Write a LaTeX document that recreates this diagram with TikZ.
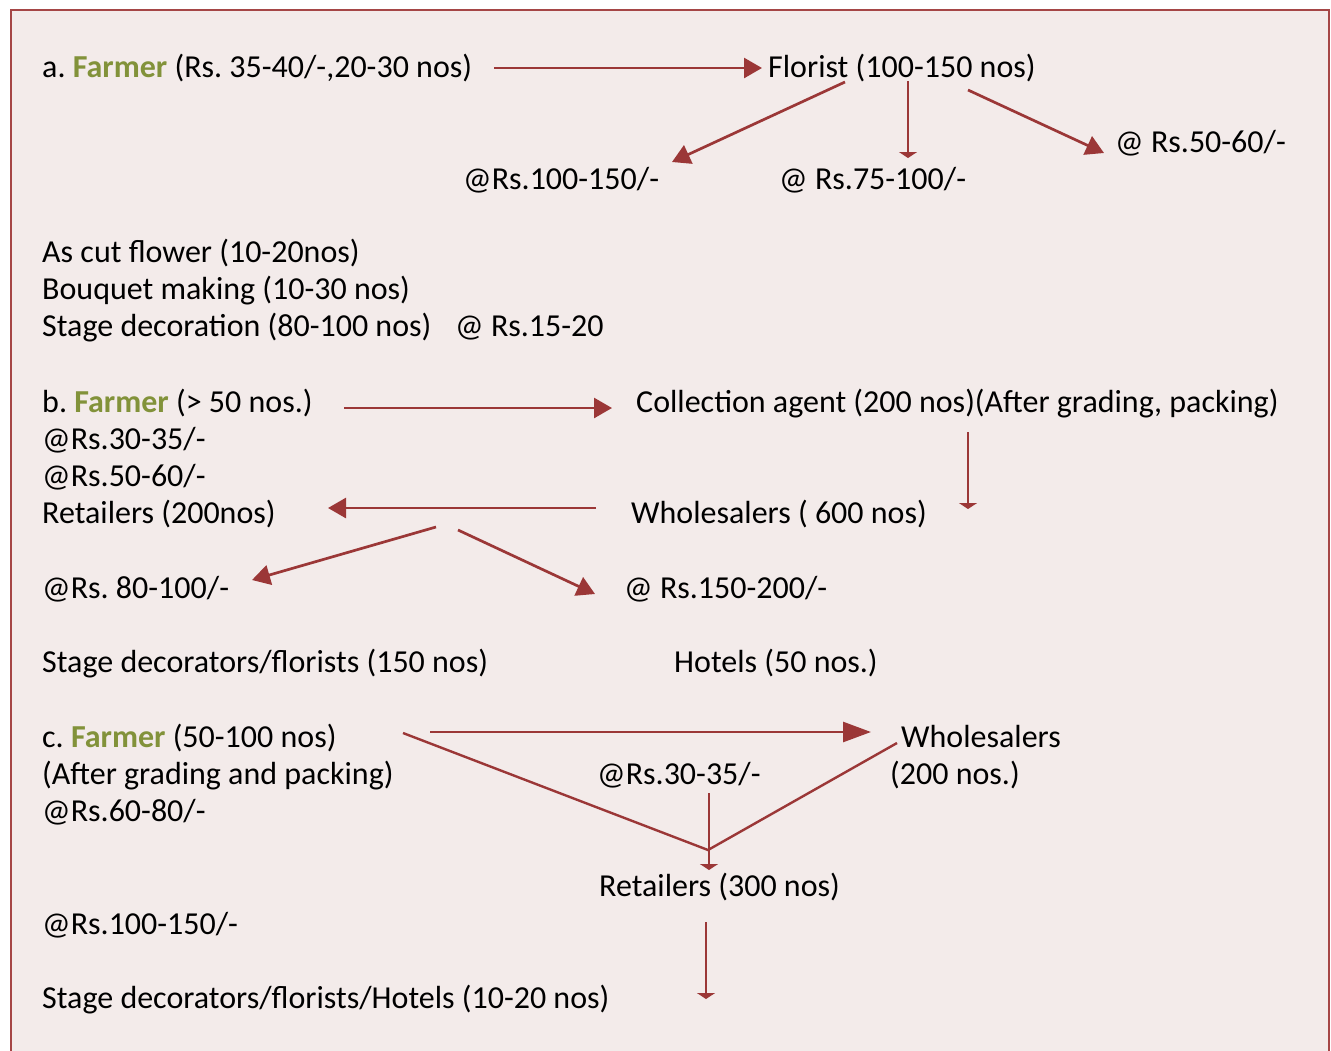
\documentclass[tikz,border=0pt]{standalone}
\usepackage{fontspec}
\setmainfont{Carlito}
\usetikzlibrary{arrows.meta}
\frenchspacing

\definecolor{framered}{RGB}{165,70,70}
\definecolor{paper}{RGB}{243,235,234}
\definecolor{flowred}{RGB}{155,55,55}
\definecolor{farmergreen}{RGB}{130,146,58}
\newcommand{\farmerword}{\textcolor{farmergreen}{\textbf{Farmer}}}

\begin{document}
\begin{tikzpicture}[
    x=1pt, y=-1pt,
    txt/.style={
        anchor=base west,
        inner sep=0pt,
        font=\fontsize{32}{37}\selectfont
    },
    bigarrow/.style={draw=flowred, line width=2.7pt, -{Triangle[length=18pt, width=20pt]}},
    longarrow/.style={draw=flowred, line width=2.7pt, -{Triangle[length=28pt, width=20pt]}},
    tinyarrow/.style={draw=flowred, line width=2pt, -{Triangle[length=6pt, width=18pt]}},
    plainline/.style={draw=flowred, line width=2.4pt}
]
\useasboundingbox (0,0) rectangle (1331,1050);
\fill[paper] (11,10) rectangle (1329,1070);
\draw[framered, line width=2.5pt] (11,1070) -- (11,10) -- (1329,10) -- (1329,1070);

% a. farmer to florist
\node[txt] (farmerA) at (42,77) {a. \farmerword{} (Rs. 35-40/-,20-30 nos)};
\node[txt] (florist) at (768,77) {Florist (100-150 nos)};
\node[txt] (priceA1) at (463,189) {@Rs.100-150/-};
\node[txt] (priceA2) at (779,189) {@ Rs.75-100/-};
\node[txt] (priceA3) at (1115,152) {@ Rs.50-60/-};
\node[txt] (cutflower) at (42,262) {As cut flower (10-20nos)};
\node[txt] (bouquet) at (42,299) {Bouquet making (10-30 nos)};
\node[txt] (stagedec) at (42,336) {Stage decoration (80-100 nos)};
\node[txt] (priceA4) at (455,336) {@ Rs.15-20};

\coordinate (aOut) at (494,68);
\coordinate (aIn) at (762,68);
\coordinate (flL) at (845,82);
\coordinate (flLtip) at (672,162);
\coordinate (flM) at (908,81);
\coordinate (flMtip) at (908,158);
\coordinate (flR) at (968,90);
\coordinate (flRtip) at (1104,153);

\draw[bigarrow] (aOut) -- (aIn);
\draw[bigarrow] (flL) -- (flLtip);
\draw[tinyarrow] (flM) -- (flMtip);
\draw[bigarrow] (flR) -- (flRtip);

% b. farmer to collection agent
\node[txt] (farmerB) at (42,412) {b. \farmerword{} (> 50 nos.)};
\node[txt] (agent) at (636,412) {Collection agent (200 nos)(After grading, packing)};
\node[txt] (priceB1) at (42,449) {@Rs.30-35/-};
\node[txt] (priceB2) at (42,486) {@Rs.50-60/-};
\node[txt] (retailB) at (42,523) {Retailers (200nos)};
\node[txt] (wholeB) at (631,523) {Wholesalers ( 600 nos)};
\node[txt] (priceB3) at (42,598) {@Rs. 80-100/-};
\node[txt] (priceB4) at (624,598) {@ Rs.150-200/-};
\node[txt] (stageB) at (42,672) {Stage decorators/florists (150 nos)};
\node[txt] (hotelB) at (674,672) {Hotels (50 nos.)};

\coordinate (bOut) at (344,408);
\coordinate (bIn) at (612,408);
\coordinate (agDown) at (968,432);
\coordinate (agTip) at (968,509);
\coordinate (whOut) at (596,508);
\coordinate (whTip) at (328,508);
\coordinate (rtL) at (436,527);
\coordinate (rtLtip) at (252,580);
\coordinate (rtR) at (458,530);
\coordinate (rtRtip) at (595,594);

\draw[bigarrow] (bOut) -- (bIn);
\draw[tinyarrow] (agDown) -- (agTip);
\draw[bigarrow] (whOut) -- (whTip);
\draw[bigarrow] (rtL) -- (rtLtip);
\draw[bigarrow] (rtR) -- (rtRtip);

% c. farmer to wholesalers and retailers
\node[txt] (farmerC) at (42,747) {c. \farmerword{} (50-100 nos)};
\node[txt] (wholeC) at (901,747) {Wholesalers};
\node[txt] (gradeC) at (42,784) {(After grading and packing)};
\node[txt] (priceC1) at (597,784) {@Rs.30-35/-};
\node[txt] (wholeCn) at (890,784) {(200 nos.)};
\node[txt] (priceC2) at (42,821) {@Rs.60-80/-};
\node[txt] (retailC) at (599,896) {Retailers (300 nos)};
\node[txt] (priceC3) at (42,934) {@Rs.100-150/-};
\node[txt] (stageC) at (42,1008) {Stage decorators/florists/Hotels (10-20 nos)};

\coordinate (cOut) at (430,732);
\coordinate (cIn) at (871,732);
\coordinate (cL) at (403,733);
\coordinate (cR) at (897,743);
\coordinate (cMeet) at (708,850);
\coordinate (cTop) at (709,793);
\coordinate (cTip) at (709,870);
\coordinate (rcDown) at (706,922);
\coordinate (rcTip) at (706,999);

\draw[longarrow] (cOut) -- (cIn);
\draw[plainline] (cL) -- (cMeet) -- (cR);
\draw[tinyarrow] (cTop) -- (cTip);
\draw[tinyarrow] (rcDown) -- (rcTip);

\end{tikzpicture}
\end{document}
